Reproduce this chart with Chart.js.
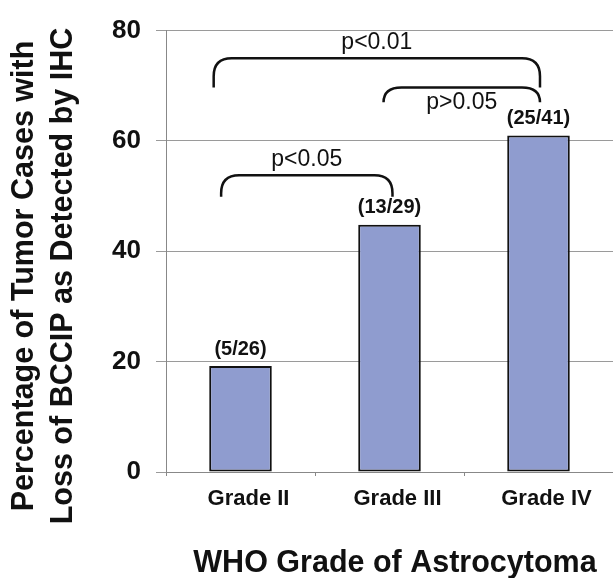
<!DOCTYPE html>
<html>
<head>
<meta charset="utf-8">
<script src="https://cdn.jsdelivr.net/npm/chart.js@4"></script>
<style>
  html, body { margin: 0; padding: 0; background: #fff; }
  #wrap { width: 613px; height: 578px; }
</style>
</head>
<body>
<div id="wrap"><canvas id="chart" width="613" height="578"></canvas></div>
<script>
const grades = ['Grade II', 'Grade III', 'Grade IV'];
const lossCases = [5, 13, 25];
const totalCases = [26, 29, 41];
const lossPercent = [19.2, 44.8, 61.0];
const yTicks = [0, 20, 40, 60, 80];

const yTitleLines = ['Percentage of Tumor Cases with', 'Loss of BCCIP as Detected by IHC'];
const xTitle = 'WHO Grade of Astrocytoma';

// significance brackets: x in category units, y in percent
const brackets = [
    { from: -0.18, to: 2.01, top: 75.0, end: 69.7, text: 'p<0.01', textY: 77.8 },
    { from: 0.96, to: 2.01, top: 69.7, end: 67.0, text: 'p>0.05', textY: 67.0 },
    { from: -0.13, to: 1.02, top: 53.8, end: 49.9, text: 'p<0.05', textY: 56.7 },
];

const FONT = '"Liberation Sans", Arial, sans-serif';

const annotate = {
    id: 'annotate',
    afterDatasetsDraw(chart) {
        const ctx = chart.ctx;
        const x = chart.scales.x;
        const y = chart.scales.y;
        ctx.save();
        ctx.fillStyle = '#111';

        // counts above bars
        ctx.font = 'bold 20px ' + FONT;
        ctx.textAlign = 'center';
        ctx.textBaseline = 'middle';
        const meta = chart.getDatasetMeta(0);
        meta.data.forEach((bar, i) => {
            ctx.fillText('(' + lossCases[i] + '/' + totalCases[i] + ')', bar.x, bar.y - 17);
        });

        // brackets
        ctx.strokeStyle = '#111';
        ctx.lineWidth = 2.5;
        ctx.lineCap = 'butt';
        brackets.forEach(b => {
            const x1 = x.getPixelForValue(b.from);
            const x2 = x.getPixelForValue(b.to);
            const yt = y.getPixelForValue(b.top);
            const ye = y.getPixelForValue(b.end);
            const ry = Math.min(ye - yt, 18);
            const rx = 18;
            ctx.beginPath();
            ctx.moveTo(x1, ye);
            ctx.lineTo(x1, yt + ry);
            ctx.quadraticCurveTo(x1, yt, x1 + rx, yt);
            ctx.lineTo(x2 - rx, yt);
            ctx.quadraticCurveTo(x2, yt, x2, yt + ry);
            ctx.lineTo(x2, ye);
            ctx.stroke();

            ctx.font = '23px ' + FONT;
            ctx.fillText(b.text, (x1 + x2) / 2, y.getPixelForValue(b.textY));
        });

        // axis titles
        ctx.font = 'bold 30.5px ' + FONT;
        ctx.textBaseline = 'alphabetic';
        ctx.fillText(xTitle, 395, 571.5);

        ctx.translate(0, 276);
        ctx.rotate(-Math.PI / 2);
        ctx.fillText(yTitleLines[0], 0, 33);
        ctx.fillText(yTitleLines[1], 0, 72);
        ctx.restore();
    }
};

const config = {
    type: 'bar',
    data: {
        labels: grades,
        datasets: [{
            data: lossPercent,
            backgroundColor: 'rgb(143,156,207)',
            borderColor: '#111',
            borderWidth: 2,
            borderSkipped: false,
            categoryPercentage: 1,
            barPercentage: 0.42,
        }]
    },
    options: {
        responsive: false,
        animation: false,
        layout: { padding: { top: 24, right: 0, left: 0, bottom: 0 } },
        scales: {
            x: {
                grid: {
                    drawOnChartArea: false,
                    drawTicks: true,
                    tickLength: 4,
                    color: '#888',
                },
                border: { color: '#888', width: 1 },
                ticks: {
                    color: '#111',
                    font: { family: FONT, size: 22, weight: 'bold' },
                    padding: 10,
                    labelOffset: 8,
                    maxRotation: 0,
                },
                afterFit(scale) { scale.height = 106; },
            },
            y: {
                min: 0,
                max: 80,
                afterBuildTicks(scale) { scale.ticks = yTicks.map(v => ({ value: v })); },
                grid: {
                    color: '#9a9a9a',
                    tickLength: 10,
                },
                border: { color: '#888', width: 1 },
                ticks: {
                    color: '#111',
                    font: { family: FONT, size: 26, weight: 'bold' },
                    padding: 15,
                },
                afterFit(scale) { scale.width = 166; },
            },
        },
        plugins: {
            legend: { display: false },
            tooltip: { enabled: false },
        },
    },
    plugins: [annotate],
};

const ctx = document.getElementById('chart').getContext('2d');
const chart = new Chart(ctx, config);
</script>
</body>
</html>
